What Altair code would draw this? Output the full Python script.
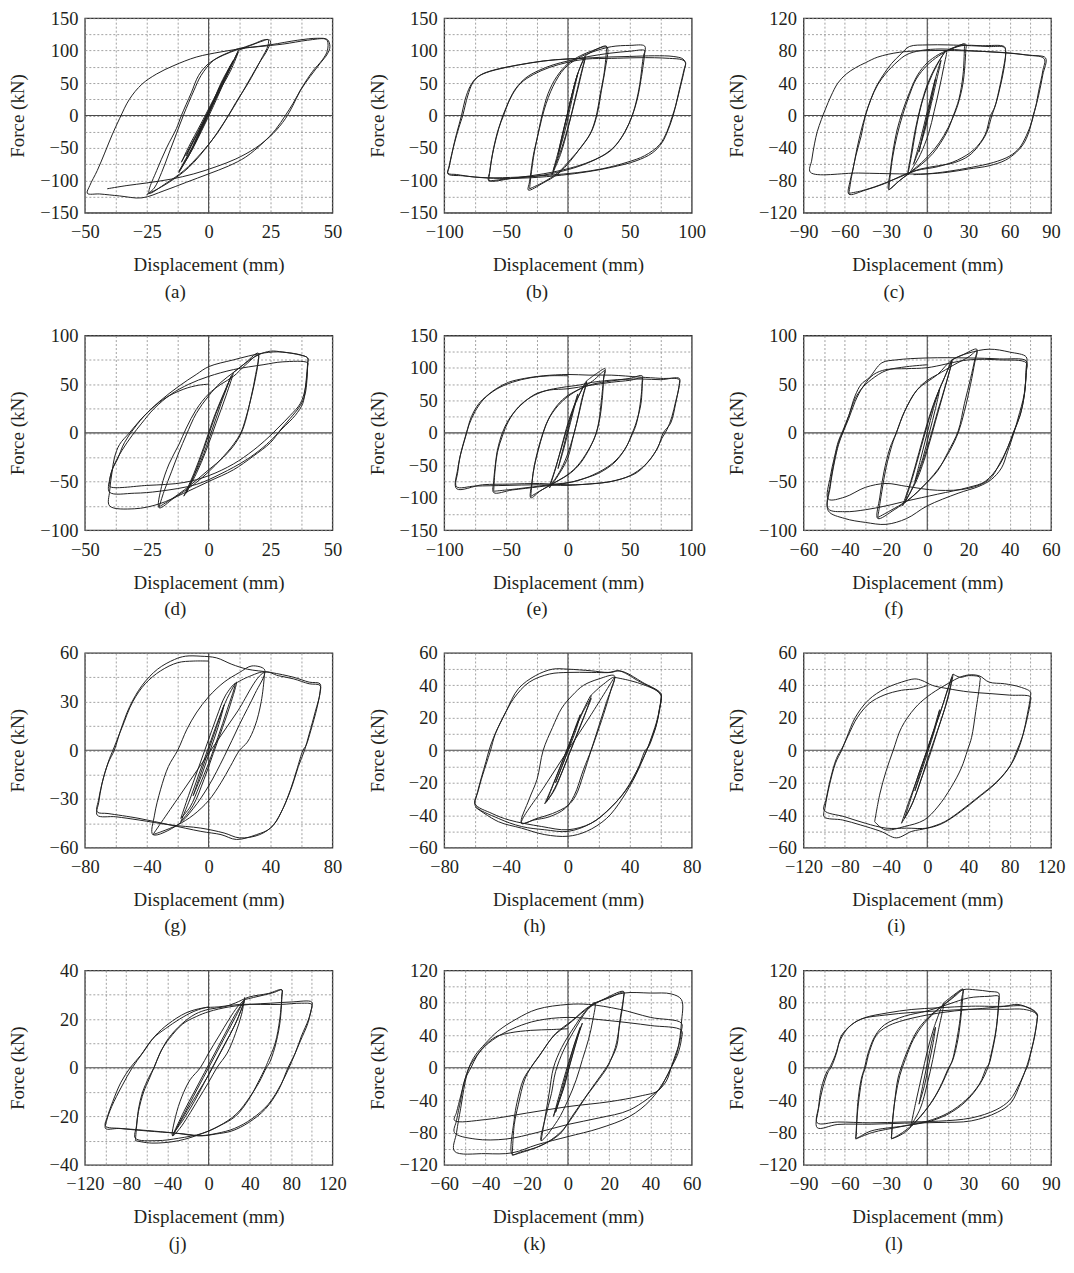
import altair as alt
import pandas as pd

FONT = "Liberation Serif"
INK = "#231f20"

# ---- panel settings: x-domain, x-tick step, y-domain, y-tick step, caption
X_DOMAINS = [[-50, 50], [-100, 100], [-90, 90], [-50, 50], [-100, 100], [-60, 60],
             [-80, 80], [-80, 80], [-120, 120], [-120, 120], [-60, 60], [-90, 90]]
X_STEPS = [25, 50, 30, 25, 50, 20, 40, 40, 40, 40, 20, 30]
Y_DOMAINS = [[-150, 150], [-150, 150], [-120, 120], [-100, 100], [-150, 150], [-100, 100],
             [-60, 60], [-60, 60], [-60, 60], [-40, 40], [-120, 120], [-120, 120]]
Y_STEPS = [50, 50, 40, 50, 50, 50, 30, 20, 20, 20, 40, 40]
CAPTIONS = ["(a)", "(b)", "(c)", "(d)", "(e)", "(f)", "(g)", "(h)", "(i)", "(j)", "(k)", "(l)"]

# ---- hysteresis loops (displacement mm, force kN)
A_LOOPS = [
    [(-6, -45), (-2, -12), (2, 20), (6, 55), (3, 30), (-1, 0), (-4, -28), (-6, -45)],
    [(-9, -62), (-4, -25), (1, 12), (5, 45), (9, 78), (6, 55), (2, 22), (-3, -15), (-7, -45), (-9, -62)],
    [(-11, -72), (-6, -38), (0, 5), (5, 50), (10, 85), (7, 62), (2, 25), (-3, -12), (-8, -48), (-11, -72)],
    [(-12, -88), (-7, -55), (-2, -15), (4, 35), (9, 75), (12, 98), (9, 70), (4, 35), (-1, -5), (-6, -45), (-10, -72), (-12, -88)],
    [(-12, -86), (-8, -60), (-3, -20), (3, 30), (8, 68), (12, 100), (7, 58), (2, 15), (-3, -25), (-8, -62), (-12, -86)],
    [(12, 100), (17, 108), (22, 115), (24, 117), (24, 108), (21, 85), (16, 50), (11, 20), (8, 0), (3, -30), (-3, -58),
     (-10, -85), (-17, -104), (-24, -120), (-24, -114), (-21, -85), (-17, -50), (-13, -20), (-11, 0), (-7, 35), (-4, 62),
     (0, 80), (6, 93), (12, 102), (18, 110), (23, 117), (25, 115), (24, 103), (20, 78), (15, 45), (10, 12), (6, -12),
     (0, -45), (-8, -80), (-16, -103), (-22, -116), (-25, -122)],
    [(-25, -122), (-22, -112), (-19, -88), (-16, -58), (-13, -28), (-10, 2), (-6, 38), (-3, 62), (2, 85), (8, 97),
     (12, 103), (20, 106), (30, 110), (40, 116), (47, 118), (48, 115), (48, 100), (46, 86), (42, 68), (38, 45), (34, 18),
     (31, 0), (27, -22), (22, -42), (15, -64), (8, -78), (0, -90), (-9, -103), (-18, -116), (-27, -127), (-36, -124),
     (-44, -121), (-49, -120), (-48, -108), (-45, -85), (-42, -58), (-39, -30), (-36, -5), (-32, 25), (-27, 48),
     (-21, 64), (-14, 77), (-5, 90), (5, 98), (15, 104), (25, 109), (36, 116), (44, 119), (48, 117), (49, 106), (48, 95),
     (45, 80), (41, 60), (37, 38), (34, 15), (31, -5), (26, -28), (19, -50), (11, -67), (3, -79), (-6, -90), (-15, -98),
     (-25, -104), (-33, -108), (-41, -113)],
]

B_LOOPS = [
    [(-8, -60), (-4, -25), (0, 5), (4, 38), (8, 65), (5, 40), (1, 5), (-3, -28), (-8, -60)],
    [(-12, -85), (-7, -50), (-2, -10), (4, 38), (9, 70), (14, 90), (11, 65), (6, 25), (1, -12), (-5, -50), (-12, -85)],
    [(-13, -92), (-8, -62), (-3, -20), (3, 30), (8, 65), (14, 92), (10, 60), (5, 20), (0, -20), (-6, -60), (-13, -92)],
    [(14, 92), (22, 101), (31, 107), (31, 98), (29, 62), (26, 32), (23, 0), (18, -28), (10, -50), (2, -70), (-8, -90),
     (-20, -104), (-32, -115), (-31, -102), (-28, -62), (-25, -36), (-21, 0), (-16, 34), (-9, 60), (0, 80), (10, 92),
     (20, 100), (30, 106), (32, 104), (30, 70), (27, 38), (24, 5), (19, -25), (11, -48), (2, -68), (-8, -88),
     (-20, -103), (-31, -113)],
    [(-31, -113), (-30, -95), (-27, -55), (-23, -20), (-19, 10), (-12, 45), (-3, 72), (8, 88), (20, 98), (35, 106),
     (50, 108), (62, 107), (62, 96), (59, 55), (56, 25), (52, 0), (46, -25), (38, -47), (28, -62), (15, -74), (1, -83),
     (-20, -92), (-45, -97), (-64, -100), (-63, -85), (-60, -50), (-56, -20), (-52, 0), (-47, 25), (-42, 42),
     (-34, 58), (-24, 69), (-12, 78), (0, 84), (17, 91), (34, 96), (50, 99), (62, 100), (61, 92), (58, 48), (55, 20),
     (51, -5), (44, -32), (34, -55), (18, -71), (2, -81), (-20, -90), (-42, -96), (-64, -101)],
    [(-64, -101), (-62, -70), (-58, -35), (-54, -8), (-50, 12), (-45, 32), (-38, 50), (-28, 63), (-15, 74), (0, 82),
     (15, 87), (35, 88), (55, 89), (70, 89), (82, 88), (92, 86), (95, 82), (94, 70), (91, 45), (88, 22), (85, 0),
     (81, -22), (76, -42), (68, -58), (55, -70), (35, -80), (15, -87), (-5, -92), (-30, -96), (-55, -97), (-75, -95),
     (-90, -91), (-97, -89), (-96, -78), (-93, -52), (-90, -28), (-86, 0), (-83, 25), (-79, 45), (-74, 58), (-66, 66),
     (-50, 74), (-30, 81), (-10, 86), (10, 88), (30, 90), (50, 91), (70, 92), (85, 91), (93, 87), (95, 80), (94, 72),
     (90, 40), (87, 15), (84, -3), (80, -25), (74, -45), (62, -62), (48, -72), (28, -82), (8, -88), (-15, -92),
     (-40, -95), (-65, -96), (-85, -93), (-97, -90), (-96, -80), (-92, -45), (-88, -18), (-85, 0), (-81, 30),
     (-77, 50), (-71, 62), (-60, 70), (-40, 78), (-20, 84), (0, 87), (12, 88)],
]

C_LOOPS = [
    [(-6, -45), (-2, -15), (2, 15), (6, 45), (3, 20), (-1, -10), (-4, -30), (-6, -45)],
    [(-10, -60), (-5, -30), (0, 5), (5, 40), (10, 68), (7, 45), (3, 15), (-2, -20), (-6, -42), (-10, -60)],
    [(-14, -72), (-11, -45), (-8, -15), (-4, 15), (1, 40), (7, 62), (14, 80), (12, 60), (9, 35), (5, 5), (1, -22),
     (-5, -48), (-10, -63), (-14, -73), (-12, -50), (-9, -20), (-5, 10), (0, 38), (6, 60), (13, 79)],
    [(13, 79), (20, 84), (27, 88), (27, 83), (26, 50), (23, 20), (19, 0), (15, -18), (10, -33), (4, -47), (-4, -60),
     (-12, -70), (-20, -80), (-28, -91), (-27, -70), (-25, -45), (-22, -18), (-18, 5), (-13, 28), (-7, 50), (0, 65),
     (8, 75), (14, 80), (21, 85), (28, 88), (28, 80), (26, 40), (22, 12), (18, -5), (12, -25), (5, -42), (-4, -58),
     (-14, -72), (-22, -83), (-28, -92)],
    [(-28, -92), (-27, -75), (-25, -50), (-22, -25), (-18, 0), (-13, 25), (-8, 45), (0, 62), (8, 73), (15, 80),
     (25, 86), (40, 86), (56, 85), (57, 80), (56, 60), (53, 35), (50, 15), (47, 0), (43, -22), (37, -38), (30, -50),
     (20, -58), (8, -62), (-5, -66), (-17, -73), (-31, -84), (-45, -92), (-57, -97), (-56, -80), (-54, -66),
     (-51, -40), (-48, -18), (-45, 0), (-41, 20), (-37, 36), (-32, 50), (-26, 64), (-19, 76), (-13, 85), (0, 87),
     (15, 87), (32, 86), (45, 85), (56, 84), (57, 78), (55, 55), (52, 30), (49, 10), (46, 0), (42, -24), (34, -42),
     (22, -55), (8, -63), (-8, -68), (-20, -76), (-35, -86), (-48, -93), (-57, -96)],
    [(-57, -96), (-55, -75), (-52, -50), (-48, -25), (-45, 0), (-41, 20), (-36, 38), (-30, 52), (-22, 66), (-15, 75),
     (-5, 80), (10, 82), (30, 80), (50, 78), (70, 75), (85, 70), (84, 55), (81, 30), (79, 12), (77, 0), (74, -20),
     (70, -35), (65, -45), (57, -55), (45, -62), (30, -66), (15, -70), (0, -72), (-20, -72), (-50, -71), (-85, -70),
     (-84, -55), (-82, -35), (-80, -20), (-77, -5), (-74, 8), (-70, 24), (-65, 40), (-59, 51), (-52, 59), (-45, 65),
     (-36, 72), (-20, 78), (0, 80), (20, 80), (40, 79), (60, 77), (75, 74), (86, 71), (84, 50), (81, 25), (78, 5),
     (76, -8), (72, -25), (67, -40), (60, -50), (48, -58), (32, -64), (15, -69), (0, -72), (-10, -73)],
]

D_LOOPS = [
    [(-10, -65), (-6, -42), (-2, -15), (2, 15), (6, 40), (10, 62), (7, 38), (3, 10), (-1, -18), (-5, -42), (-10, -65)],
    [(-9, -62), (-5, -38), (-1, -10), (3, 20), (7, 45), (9, 58), (5, 30), (1, 0), (-3, -28), (-7, -50), (-9, -62)],
    [(10, 62), (14, 70), (20, 82), (20, 73), (18, 45), (15, 15), (13, 0), (10, -12), (5, -27), (0, -40), (-6, -53),
     (-14, -67), (-20, -77), (-19, -55), (-16, -32), (-12, -12), (-9, 5), (-5, 24), (0, 40), (5, 50), (10, 58),
     (15, 70), (20, 80), (19, 60), (17, 35), (14, 5), (11, -10), (6, -25), (0, -38), (-8, -55), (-15, -68), (-20, -76)],
    [(-20, -76), (-18, -60), (-15, -40), (-12, -20), (-9, -2), (-5, 20), (0, 38), (5, 52), (10, 62), (15, 72),
     (20, 80), (25, 84), (30, 83), (37, 80), (40, 77), (40, 70), (39, 40), (37, 28), (33, 15), (29, 3), (25, -10),
     (18, -24), (10, -38), (0, -50), (-10, -62), (-20, -73), (-30, -78), (-40, -75), (-40, -60), (-39, -40),
     (-38, -25), (-36, -12), (-32, 0), (-27, 15), (-20, 32), (-12, 48), (-5, 60), (0, 68), (10, 75), (22, 82),
     (30, 83), (40, 77), (40, 72), (39, 45), (38, 30), (35, 18), (30, 5), (27, -3), (22, -15), (15, -28), (5, -42),
     (-5, -53), (-20, -60), (-30, -62), (-40, -61), (-40, -48), (-38, -32), (-35, -18), (-31, -3), (-27, 10),
     (-22, 25), (-15, 40), (-8, 50), (0, 58), (10, 65), (22, 70), (30, 73), (40, 72), (40, 68), (39, 45), (37, 30),
     (33, 18), (28, 5), (24, -5), (18, -18), (10, -32), (0, -44), (-10, -51), (-25, -54), (-40, -55), (-40, -50),
     (-39, -38), (-37, -28), (-34, -10), (-30, 5), (-25, 20), (-18, 35), (-10, 45), (-4, 49), (0, 50)],
]

E_LOOPS = [
    [(-8, -55), (-4, -25), (0, 5), (4, 35), (8, 60), (5, 38), (1, 8), (-3, -22), (-8, -55)],
    [(-15, -85), (-10, -55), (-5, -20), (0, 15), (5, 42), (10, 62), (15, 78), (12, 55), (8, 22), (4, -8), (0, -38),
     (-7, -63), (-15, -85)],
    [(-15, -82), (-11, -60), (-6, -28), (-1, 5), (4, 35), (9, 58), (15, 80), (11, 50), (7, 15), (2, -20), (-4, -50),
     (-10, -70), (-15, -82)],
    [(15, 80), (22, 90), (30, 99), (29, 88), (28, 58), (26, 25), (23, 0), (18, -22), (10, -47), (2, -62), (-10, -76),
     (-22, -89), (-30, -100), (-29, -75), (-27, -50), (-24, -27), (-20, 0), (-15, 24), (-8, 44), (0, 58), (10, 68),
     (20, 80), (30, 96), (29, 85), (27, 50), (25, 18), (22, -5), (16, -28), (8, -50), (0, -64), (-12, -78),
     (-23, -90), (-30, -98)],
    [(-30, -98), (-28, -60), (-25, -32), (-21, -5), (-16, 20), (-8, 42), (0, 56), (10, 68), (20, 75), (35, 80),
     (50, 84), (60, 88), (60, 80), (59, 45), (55, 15), (52, 0), (47, -22), (38, -45), (25, -62), (10, -72), (0, -77),
     (-23, -83), (-45, -88), (-60, -92), (-60, -75), (-59, -55), (-57, -27), (-53, 0), (-48, 20), (-42, 35),
     (-35, 48), (-26, 60), (-15, 66), (0, 68), (17, 73), (35, 78), (50, 81), (60, 84), (60, 75), (58, 40), (55, 12),
     (52, -2), (46, -25), (36, -47), (20, -65), (5, -75), (-15, -80), (-40, -86), (-60, -90)],
    [(-60, -90), (-59, -60), (-57, -30), (-53, -5), (-48, 18), (-40, 40), (-30, 55), (-18, 65), (-5, 70), (10, 74),
     (20, 78), (40, 82), (60, 83), (75, 82), (90, 84), (90, 76), (87, 45), (83, 15), (77, 0), (73, -21), (66, -42),
     (55, -62), (39, -73), (23, -78), (0, -80), (-23, -78), (-47, -79), (-69, -80), (-90, -86), (-89, -55),
     (-86, -27), (-82, 0), (-78, 25), (-72, 45), (-65, 58), (-58, 68), (-48, 78), (-35, 84), (-20, 88), (0, 90),
     (17, 89), (35, 89), (58, 86), (75, 84), (90, 82), (90, 73), (87, 48), (84, 25), (80, 5), (76, -8), (71, -28),
     (62, -50), (50, -66), (35, -75), (15, -79), (0, -81), (-25, -80), (-50, -81), (-75, -82), (-90, -83),
     (-89, -60), (-87, -35), (-83, -8), (-80, 12), (-75, 33), (-68, 52), (-58, 67), (-45, 78), (-30, 85),
     (-15, 88), (0, 88)],
]

F_LOOPS = [
    [(-6, -50), (-3, -25), (0, 0), (3, 25), (6, 45), (4, 25), (1, 0), (-2, -25), (-6, -50)],
    [(-12, -75), (-8, -50), (-4, -20), (0, 10), (4, 35), (8, 55), (12, 75), (9, 50), (5, 22), (1, -8), (-4, -40),
     (-8, -60), (-12, -75)],
    [(-11, -72), (-7, -45), (-3, -15), (1, 15), (5, 40), (9, 60), (12, 74), (8, 42), (4, 12), (0, -18), (-5, -48),
     (-11, -72)],
    [(12, 75), (17, 80), (24, 86), (23, 75), (21, 56), (18, 30), (15, 2), (10, -20), (5, -39), (-2, -55), (-8, -67),
     (-16, -79), (-24, -88), (-23, -66), (-21, -40), (-18, -15), (-15, 0), (-11, 22), (-5, 44), (0, 54), (5, 60),
     (13, 70), (20, 78), (24, 84), (23, 72), (21, 50), (18, 22), (15, 0), (11, -18), (5, -38), (-3, -57), (-10, -70),
     (-18, -80), (-24, -87)],
    [(-24, -87), (-22, -60), (-20, -36), (-17, -12), (-15, 0), (-11, 22), (-5, 44), (5, 60), (12, 75), (20, 82),
     (30, 86), (40, 83), (48, 78), (48, 68), (47, 40), (44, 15), (42, 0), (39, -19), (36, -36), (31, -48), (25, -55),
     (15, -62), (0, -75), (-10, -88), (-20, -94), (-30, -92), (-40, -88), (-48, -80), (-47, -55), (-45, -30),
     (-43, -12), (-41, 0), (-38, 18), (-35, 38), (-32, 50), (-28, 57), (-22, 72), (-15, 75), (0, 77), (20, 77),
     (35, 76), (48, 74), (48, 65), (47, 38), (45, 18), (42, 2), (39, -15), (35, -33), (28, -50), (20, -56), (5, -63),
     (-10, -70), (-20, -75), (-30, -79), (-40, -81), (-48, -78), (-47, -52), (-45, -28), (-43, -10), (-41, 0),
     (-38, 15), (-35, 32), (-31, 48), (-26, 60), (-20, 65), (-10, 66), (0, 67), (20, 75), (35, 75), (48, 72),
     (48, 62), (47, 38), (45, 18), (42, 1), (39, -15), (35, -32), (30, -48), (20, -57), (5, -59), (-10, -55),
     (-20, -52), (-30, -56), (-40, -66), (-48, -68), (-47, -45), (-45, -25), (-43, -8), (-41, 2), (-38, 18),
     (-35, 35), (-32, 45), (-27, 55), (-20, 64), (-10, 68), (0, 70)],
]

G_LOOPS = [
    [(-10, -28), (-5, -14), (0, 0), (5, 14), (10, 28), (6, 14), (1, 0), (-4, -14), (-10, -28)],
    [(-18, -44), (-12, -30), (-6, -14), (0, 2), (6, 18), (12, 32), (18, 42), (14, 28), (9, 14), (3, -2), (-3, -18),
     (-10, -34), (-18, -44)],
    [(-18, -42), (-13, -28), (-7, -12), (-1, 4), (5, 20), (11, 34), (17, 41), (12, 25), (6, 8), (0, -8), (-6, -22),
     (-12, -35), (-18, -42)],
    [(17, 41), (25, 45), (36, 48), (30, 35), (20, 16), (10, -4), (0, -22), (-10, -36), (-20, -46), (-36, -52),
     (-35, -40), (-31, -24), (-26, -10), (-20, 0), (-14, 13), (-8, 23), (0, 33), (10, 42), (20, 48), (28, 52),
     (36, 50), (36, 46), (34, 30), (30, 15), (25, 5), (20, 0), (14, -10), (8, -20), (0, -31), (-10, -40), (-20, -46),
     (-30, -50), (-36, -52)],
    [(-36, -52), (-18, -27), (0, -2), (18, 23), (36, 48), (45, 46), (55, 44), (65, 41), (72, 40), (72, 35), (69, 24),
     (65, 10), (62, 0), (58, -10), (54, -22), (48, -36), (42, -46), (33, -52), (20, -54), (10, -51), (-5, -48),
     (-25, -46), (-45, -43), (-60, -41), (-72, -40), (-71, -32), (-69, -21), (-65, -8), (-61, 0), (-57, 12),
     (-51, 27), (-43, 40), (-33, 50), (-22, 56), (-15, 58), (-5, 58), (5, 57), (15, 53), (25, 50), (40, 48),
     (55, 45), (65, 42), (72, 41), (72, 36), (70, 26), (66, 12), (63, 3), (61, 0), (57, -12), (53, -24), (47, -38),
     (40, -48), (31, -52), (18, -55), (8, -52), (-5, -50), (-25, -46), (-45, -42), (-65, -39), (-72, -38),
     (-71, -30), (-68, -17), (-64, -5), (-61, 2), (-56, 14), (-49, 30), (-41, 41), (-31, 49), (-20, 54), (-10, 55),
     (0, 55)],
]

H_LOOPS = [
    [(-8, -20), (-4, -10), (0, 0), (4, 12), (8, 22), (5, 12), (1, 2), (-3, -8), (-8, -20)],
    [(-15, -33), (-10, -22), (-5, -10), (0, 2), (5, 14), (10, 25), (15, 34), (11, 22), (6, 10), (1, -2), (-4, -14),
     (-9, -25), (-15, -33)],
    [(-14, -32), (-9, -20), (-4, -8), (1, 4), (6, 16), (11, 26), (15, 32), (10, 20), (5, 8), (0, -4), (-5, -16),
     (-10, -26), (-14, -32)],
    [(15, 34), (22, 40), (30, 45), (25, 30), (20, 15), (15, 0), (10, -15), (5, -28), (0, -34), (-10, -39), (-20, -42),
     (-30, -45), (-25, -30), (-20, -18), (-16, 0), (-10, 14), (-4, 26), (3, 34), (10, 40), (20, 44), (30, 46),
     (28, 38), (23, 22), (18, 8), (15, 0), (10, -12), (4, -28), (-2, -36), (-12, -41), (-22, -43), (-30, -45),
     (-15, -22), (0, 0), (15, 22), (30, 45)],
    [(30, 45), (40, 43), (50, 40), (60, 35), (60, 31), (58, 20), (54, 8), (51, 0), (46, -10), (37, -25), (26, -37),
     (15, -45), (0, -49), (-17, -47), (-38, -43), (-49, -39), (-60, -33), (-58, -25), (-56, -18), (-52, -6),
     (-50, 0), (-47, 10), (-40, 24), (-32, 38), (-21, 46), (-10, 50), (0, 50), (15, 49), (26, 48), (32, 49),
     (37, 48), (48, 42), (60, 35), (60, 30), (58, 19), (55, 9), (52, 2), (50, 0), (45, -12), (38, -24), (28, -35),
     (15, -45), (0, -50), (-15, -49), (-30, -47), (-45, -42), (-60, -34), (-59, -28), (-56, -17), (-53, -7),
     (-51, 0), (-48, 8), (-42, 20), (-35, 32), (-25, 42), (-12, 47), (0, 48), (15, 48), (28, 48), (33, 49),
     (45, 43), (60, 34), (59, 25), (57, 15), (53, 5), (50, -2), (44, -15), (35, -30), (25, -42), (12, -50),
     (0, -53), (-15, -52), (-30, -48), (-45, -44), (-60, -35)],
]

I_LOOPS = [
    [(-12, -25), (-6, -12), (0, 0), (6, 12), (12, 25), (7, 12), (1, 0), (-5, -12), (-12, -25)],
    [(-25, -45), (-18, -32), (-10, -18), (-3, -5), (5, 10), (12, 22), (20, 38), (25, 47), (20, 32), (13, 18), (6, 5),
     (-1, -8), (-8, -22), (-16, -35), (-25, -45)],
    [(-22, -42), (-15, -28), (-8, -14), (0, 0), (8, 15), (15, 28), (24, 45), (18, 28), (10, 12), (2, -4), (-6, -18),
     (-14, -32), (-22, -42)],
    [(25, 47), (32, 45), (40, 46), (51, 45), (51, 42), (47, 24), (43, 8), (39, 0), (33, -11), (23, -23), (10, -35),
     (-3, -43), (-22, -47), (-41, -49), (-51, -44)],
    [(-51, -44), (-46, -27), (-40, -13), (-33, 0), (-25, 14), (-12, 26), (0, 33), (17, 40), (36, 46), (50, 46),
     (60, 42), (75, 41), (90, 39), (100, 36), (100, 33), (97, 22), (93, 10), (88, 0), (81, -9), (68, -19), (49, -29),
     (33, -37), (17, -44), (0, -48), (-15, -50), (-30, -54), (-45, -50), (-65, -46), (-82, -43), (-100, -41),
     (-99, -35), (-95, -22), (-89, -8), (-83, 0), (-78, 8), (-70, 20), (-57, 31), (-41, 38), (-25, 42), (-12, 44),
     (-5, 43), (5, 40), (20, 38), (40, 36), (60, 35), (80, 34), (100, 33), (100, 30), (97, 20), (92, 8), (87, 0),
     (80, -10), (67, -20), (48, -30), (32, -38), (15, -45), (0, -48), (-20, -48), (-40, -48), (-60, -45),
     (-80, -41), (-100, -37), (-98, -30), (-94, -18), (-88, -5), (-82, 2), (-76, 10), (-68, 20), (-56, 29),
     (-42, 34), (-25, 37), (-10, 38), (0, 40)],
]

J_LOOPS = [
    [(-35, -28), (-25, -20), (-15, -12), (-5, -4), (5, 4), (15, 12), (25, 20), (35, 28), (28, 20), (20, 13), (10, 5),
     (0, -3), (-10, -10), (-20, -17), (-35, -28)],
    [(-34, -27), (-24, -18), (-14, -10), (-4, -2), (6, 6), (16, 14), (26, 22), (34, 27), (26, 18), (16, 10), (6, 2),
     (-4, -6), (-14, -14), (-24, -21), (-34, -27)],
    [(35, 29), (32, 22), (26, 14), (18, 6), (8, 0), (0, -6), (-10, -13), (-20, -20), (-28, -25), (-35, -28),
     (-32, -20), (-26, -12), (-18, -5), (-8, 0), (0, 6), (10, 13), (20, 20), (28, 25), (35, 28)],
    [(35, 28), (45, 29), (55, 30), (64, 31), (71, 32), (71, 30), (69, 20), (64.5, 10), (58, 3), (55, 0), (48, -6),
     (39, -13), (26, -20), (10, -24), (-6, -27), (-29, -29), (-50, -30), (-71, -29), (-70, -24), (-68, -18),
     (-63, -10), (-58, -5), (-53, 0), (-47, 6), (-39, 12), (-26, 18), (-13, 22), (0, 24), (15, 25), (26, 26.6),
     (39, 29), (58, 30.5), (71, 32), (71, 29), (69, 18), (64, 8), (59, 2), (56, 0), (49, -6), (40, -12), (27, -19),
     (10, -24), (-6, -27), (-29, -30), (-55, -31), (-71, -30)],
    [(-71, -30), (-70, -25), (-68, -17), (-64, -10), (-58, -4), (-53, 0), (-46, 7), (-38, 12), (-25, 18), (-12, 21),
     (0, 23), (20, 25), (40, 26), (60, 26.5), (80, 27), (100, 27), (100, 25), (97, 20), (90, 13), (84, 6), (77, 0),
     (68, -9), (55, -17), (39, -22.5), (22.6, -26), (6.5, -27.3), (-6.5, -28), (-22.6, -27.3), (-55, -26),
     (-87, -25), (-100, -25), (-99, -22), (-94, -16), (-84, -7.5), (-74, 0), (-64, 6), (-52, 13), (-39, 18),
     (-22, 22.5), (-6, 24.5), (10, 25), (30, 26), (50, 26), (70, 26), (90, 26.5), (100, 26), (99, 23), (96, 18),
     (89, 11), (83, 5), (78, 0), (70, -7), (58, -15), (42, -21), (25, -25), (8, -27), (-10, -28), (-30, -27),
     (-60, -26), (-85, -25), (-100, -24), (-98, -20), (-93, -14), (-85, -6), (-76, 0), (-66, 5), (-54, 12),
     (-42, 16), (-28, 20), (-15, 23), (-5, 24.5), (0, 25)],
]

K_LOOPS = [
    [(-7, -60), (-4, -32), (-1, -5), (2, 20), (5, 42), (7, 55), (4, 32), (1, 5), (-2, -25), (-5, -45), (-7, -60)],
    [(-6, -55), (-3, -28), (0, 0), (3, 28), (6, 50), (3, 22), (0, -5), (-3, -32), (-6, -55)],
    [(-13, -90), (-11, -60), (-9, -30), (-7, 0), (-3, 25), (3, 50), (8, 68), (13, 80), (12, 58), (10, 35), (7, 10),
     (4, -15), (0, -40), (-5, -65), (-13, -90), (-11, -62), (-8, -32), (-6, -5), (-2, 22), (4, 50), (9, 70), (13, 80)],
    [(13, 80), (20, 86), (27, 93), (27, 88), (25, 55), (23.7, 27), (20.5, 8), (19, 0), (14, -18), (9, -35),
     (2.7, -59), (-3.7, -80), (-13, -96), (-23, -104), (-27, -107), (-26, -63), (-24.7, -43), (-21.5, -14),
     (-18, 0), (-14, 14), (-7, 39), (0, 53), (9, 72), (15.6, 82), (27, 94), (27, 86), (25, 52), (23, 25), (20, 6),
     (18, -2), (13, -20), (8, -38), (2, -60), (-4, -82), (-14, -97), (-27, -108)],
    [(-27, -108), (-26, -70), (-24, -45), (-21, -15), (-18, 0), (-13, 18), (-6, 42), (2, 58), (10, 75), (18, 85),
     (27, 92), (40, 92), (50, 91), (55, 84), (55, 55), (53, 20), (50, 0), (47, -15), (40, -40), (30, -60),
     (15, -75), (0, -85), (-15, -95), (-27, -105), (-40, -106), (-55, -103), (-54, -80), (-52, -50), (-50, -20),
     (-48, 0), (-45, 15), (-40, 30), (-34, 45), (-25, 60), (-15, 72), (0, 78), (10, 78), (25, 72), (40, 62),
     (55, 55), (55, 45), (54, 30), (52, 15), (50, 0), (48, -15), (45, -25), (30, -52), (15, -62), (0, -70),
     (-15, -80), (-30, -88), (-45, -88), (-55, -80), (-54, -65), (-52, -40), (-50, -15), (-47, 0), (-44, 15),
     (-40, 27), (-33, 40), (-25, 50), (-15, 58), (0, 62), (20, 58), (40, 52), (55, 46), (55, 35), (53, 15),
     (50, 0), (47, -15), (44, -28), (35, -35), (20, -42), (0, -48), (-20, -56), (-40, -64), (-55, -65),
     (-54, -55), (-52, -35), (-50, -15), (-48, 0), (-45, 12), (-40, 28), (-35, 38), (-28, 43), (-18, 46),
     (-8, 47), (0, 48)],
]

L_LOOPS = [
    [(-6, -45), (-3, -20), (0, 5), (3, 30), (6, 50), (4, 28), (1, 3), (-2, -22), (-6, -45)],
    [(-12, -72), (-8, -40), (-4, -10), (0, 20), (5, 50), (12, 80), (8, 45), (4, 10), (0, -20), (-5, -50), (-12, -72)],
    [(12, 80), (18, 88), (26, 97), (26, 92), (24.8, 67.6), (22.3, 35), (18.7, 10), (16, 0), (10, -22.5), (3, -43),
     (-6.8, -63.5), (-16.5, -80), (-26, -87), (-26, -84), (-23.8, -43), (-21.4, -14), (-19, 0), (-14, 22.5),
     (-6.8, 47), (3, 65.6), (12.6, 78), (20, 88), (26, 96), (25, 85), (24, 62), (21, 30), (18, 8), (15, -2),
     (9, -25), (2, -45), (-8, -66), (-18, -80), (-26, -88)],
    [(-26, -88), (-25, -60), (-23, -35), (-20, -10), (-16, 10), (-10, 35), (-2, 55), (8, 72), (15, 82), (26, 96),
     (35, 96), (45, 94), (52, 92), (52, 84), (50, 47), (46.6, 18), (44, 0), (39, -18), (29.6, -39), (17.5, -55),
     (3, -65.6), (-16.5, -71.7), (-40.8, -78), (-52, -87), (-51.7, -84), (-50.5, -43), (-48, -14), (-45.6, 0),
     (-43, 18), (-38, 39), (-31, 53), (-16.5, 63.5), (0, 70), (15, 78), (30, 86), (45, 88), (52, 88), (52, 80),
     (50, 45), (47, 18), (45, 5), (43, 0), (38, -20), (28, -40), (15, -56), (0, -66), (-20, -73), (-40, -80),
     (-52, -88)],
    [(-52, -88), (-51, -60), (-49, -30), (-47, -10), (-45, 0), (-42, 20), (-37, 40), (-30, 50), (-20, 57), (0, 65),
     (20, 70), (40, 73), (60, 76), (70, 76), (78, 70), (80, 65), (80, 61.5), (78, 39), (74.5, 14), (72, 0),
     (68, -18), (61, -43), (51, -55), (32, -65.6), (7.8, -67.6), (-16.5, -68.4), (-40.8, -69.7), (-65, -70),
     (-80, -74), (-79, -50), (-76, -25), (-72, -5), (-70, 0), (-66, 18), (-62.6, 39), (-55, 53), (-45.6, 61.5),
     (-28.6, 67.6), (-11.7, 71.7), (7.8, 73.8), (32, 75.8), (56, 75.8), (66, 78), (75.7, 71.7), (80, 66),
     (80, 60), (78, 38), (75, 16), (73, 2), (71, -5), (67, -20), (60, -40), (50, -52), (32, -62), (8, -66),
     (-17, -67), (-41, -68), (-65, -67), (-80, -68), (-79, -48), (-77, -25), (-73, -5), (-71, 0), (-67, 15),
     (-63, 35), (-57, 50), (-48, 60), (-30, 65), (-12, 68), (8, 70), (30, 72), (56, 72), (70, 72), (78, 68),
     (80, 64)],
]

ALL_LOOPS = [A_LOOPS, B_LOOPS, C_LOOPS, D_LOOPS, E_LOOPS, F_LOOPS,
             G_LOOPS, H_LOOPS, I_LOOPS, J_LOOPS, K_LOOPS, L_LOOPS]

PW, PH = 248, 195


def axis_values(dom, step):
    half = step / 2
    n = int(round((dom[1] - dom[0]) / half))
    return [dom[0] + k * half for k in range(n + 1)]


def make_axis(dom, step, title, is_x):
    common = dict(
        values=axis_values(dom, step),
        format="d",
        labelExpr=f"abs(datum.value) % {step} == 0 ? datum.label : ''",
        grid=True, gridDash=[2, 2], gridColor="#8c8c8c", gridWidth=0.8,
        ticks=False, tickSize=0, domain=False,
        labelFlush=False, labelOverlap=False, labelBound=False,
        title=title, titleBaseline="middle",
    )
    if is_x:
        return alt.Axis(labelPadding=10, titleY=52, **common)
    return alt.Axis(labelPadding=7, titleX=-67, titleY=PH / 2, **common)


def panel(loops, xd, xs, yd, ys, caption):
    rows = []
    for p, loop in enumerate(loops):
        for i, (x, y) in enumerate(loop):
            rows.append({"x": x, "y": y, "path": p, "i": i})
    df = pd.DataFrame(rows)
    xsc = alt.Scale(domain=xd, nice=False, zero=False)
    ysc = alt.Scale(domain=yd, nice=False, zero=False)
    xax = make_axis(xd, xs, "Displacement (mm)", True)
    yax = make_axis(yd, ys, "Force (kN)", False)
    zero = pd.DataFrame({"z": [0]})
    hz = alt.Chart(zero).mark_rule(color="#4a4a4a", strokeWidth=1.1).encode(
        y=alt.YDatum(0, scale=ysc, axis=yax))
    vz = alt.Chart(zero).mark_rule(color="#4a4a4a", strokeWidth=1.1).encode(
        x=alt.XDatum(0, scale=xsc, axis=xax))
    lines = alt.Chart(df).mark_line(
        color="#222222", strokeWidth=1.0, interpolate="catmull-rom", clip=True
    ).encode(
        x=alt.X("x:Q", scale=xsc, axis=xax),
        y=alt.Y("y:Q", scale=ysc, axis=yax),
        detail="path:N",
        order="i:Q",
    )
    return alt.layer(hz, vz, lines).properties(
        width=PW, height=PH,
        title=alt.TitleParams(caption, orient="bottom", anchor="middle", frame="bounds", offset=8),
    )


panels = [panel(ALL_LOOPS[k], X_DOMAINS[k], X_STEPS[k], Y_DOMAINS[k], Y_STEPS[k], CAPTIONS[k])
          for k in range(12)]

chart = alt.concat(
    *panels, columns=3, spacing={"row": 123, "column": 112}, bounds="flush"
).properties(
    padding={"left": 0, "top": -1, "right": 0, "bottom": 0}
).configure_view(
    stroke="#333333", strokeWidth=1.3
).configure_axis(
    labelFont=FONT, titleFont=FONT, labelFontSize=18.5, titleFontSize=19,
    labelColor=INK, titleColor=INK, titleFontWeight="normal",
).configure_title(
    font=FONT, fontSize=19, color=INK, fontWeight="normal"
)

chart.save("out.html", embed_options={"renderer": "svg", "actions": False})
